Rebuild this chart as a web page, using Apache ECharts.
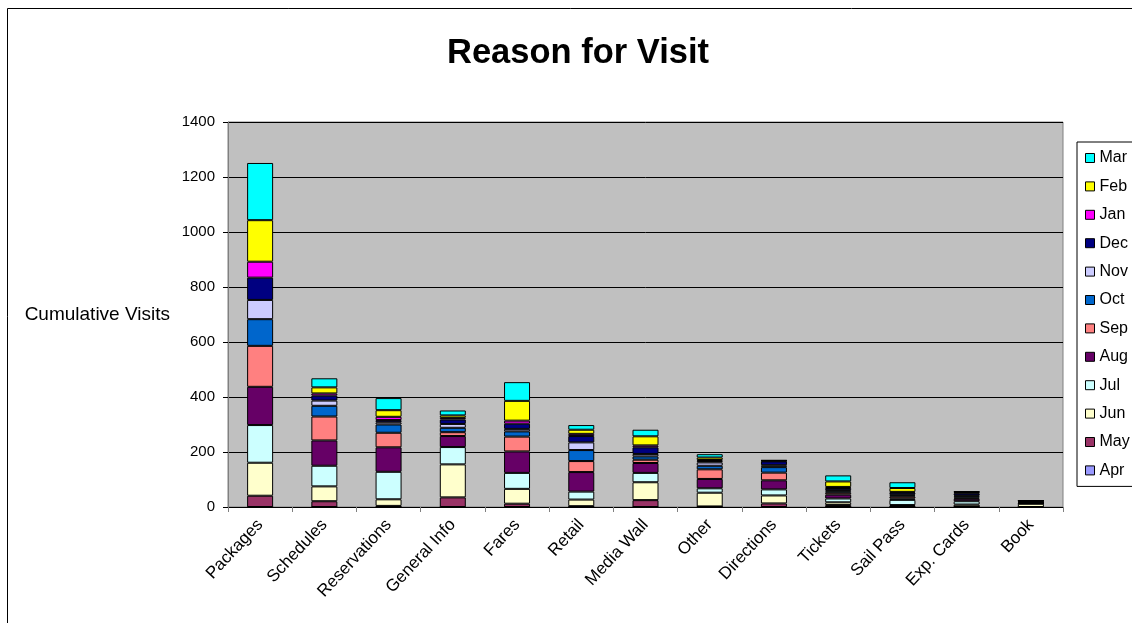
<!DOCTYPE html>
<html>
<head>
<meta charset="utf-8">
<script src="https://cdn.jsdelivr.net/npm/echarts@6/dist/echarts.min.js"></script>
<style>
html,body{margin:0;padding:0;background:#fff;}
#chart{width:1132px;height:623px;}
</style>
</head>
<body>
<div id="chart"></div>
<script>
const categories = ['Packages','Schedules','Reservations','General Info','Fares','Retail','Media Wall','Other','Directions','Tickets','Sail Pass','Exp. Cards','Book'];
const months = ['Apr','May','Jun','Jul','Aug','Sep','Oct','Nov','Dec','Jan','Feb','Mar'];
const apr = [0,0,0,0,0,0,0,0,0,0,0,0,0];
const may = [41,21,4,35,12,3,25,2,13,7,3,2,0];
const jun = [120,54,24,120,54,24,65,50,29,10,4,7,12];
const jul = [137,75,100,63,58,29,34,16,22,14,19,12,0];
const aug = [139,92,89,40,78,71,36,34,33,14,5,9,2];
const sep = [149,87,53,14,54,40,12,35,28,7,7,4,1];
const oct = [97,39,30,16,19,40,12,13,20,5,4,5,1];
const nov = [70,19,8,14,9,28,9,12,7,4,3,3,1];
const dec = [81,18,8,16,19,23,24,5,14,8,7,8,4];
const jan = [58,8,12,6,11,8,7,4,2,4,3,3,1];
const feb = [151,22,24,9,72,15,33,9,1,20,14,2,1];
const mar = [208,33,44,18,68,17,24,12,1,22,21,2,0];
const yTicks = [0,200,400,600,800,1000,1200,1400];

const monthData = [apr,may,jun,jul,aug,sep,oct,nov,dec,jan,feb,mar];
const colors = ['#9999FF','#993366','#FFFFCC','#CCFFFF','#660066','#FF8080','#0066CC','#CCCCFF','#000080','#FF00FF','#FFFF00','#00FFFF'];
const FONT = '"Liberation Sans", Arial, sans-serif';

const chart = echarts.init(document.getElementById('chart'), null, {renderer:'canvas'});
const series = months.map((m,i)=>({
  name: m,
  type: 'bar',
  stack: 'total',
  barWidth: 26,
  data: monthData[i],
  itemStyle: {color: colors[i], borderColor: '#000', borderWidth: 1},
  emphasis: {disabled: true}
}));

chart.setOption({
  animation: false,
  backgroundColor: '#fff',
  title: {
    text: 'Reason for Visit',
    left: 447, top: 36, padding: 0,
    textStyle: {fontFamily: FONT, fontSize: 34.5, fontWeight: 'bold', color: '#000'}
  },
  graphic: [{
    type: 'rect', silent: true,
    shape: {x: 7.5, y: 8.5, width: 1300, height: 800},
    style: {fill: 'none', stroke: '#000', lineWidth: 1}
  }],
  legend: {
    orient: 'vertical',
    left: 1077, top: 142,
    padding: [7, 30, 7, 8],
    borderColor: '#000', borderWidth: 1,
    backgroundColor: '#fff',
    itemWidth: 9, itemHeight: 9, itemGap: 10.4,
    icon: 'rect',
    itemStyle: {borderColor: '#000', borderWidth: 1},
    textStyle: {fontFamily: FONT, fontSize: 16, color: '#000', lineHeight: 18},
    data: months.slice().reverse()
  },
  grid: {
    left: 228, right: 69, top: 122, bottom: 116,
    show: true, backgroundColor: '#C0C0C0', borderColor: '#808080', borderWidth: 1
  },
  xAxis: {
    type: 'category',
    data: categories,
    axisLine: {lineStyle: {color: '#000', width: 1}},
    axisTick: {show: true, alignWithLabel: false, length: 5, lineStyle: {color: '#808080'}},
    axisLabel: {rotate: 47, fontFamily: FONT, fontSize: 17, color: '#000', margin: 15, interval: 0}
  },
  yAxis: {
    type: 'value',
    min: yTicks[0], max: yTicks[yTicks.length-1], interval: 200,
    name: 'Cumulative Visits',
    nameLocation: 'middle', nameRotate: 0, nameGap: 58,
    nameTextStyle: {fontFamily: FONT, fontSize: 19, color: '#000'},
    axisLine: {show: true, lineStyle: {color: '#808080', width: 1}},
    axisTick: {show: true, length: 5, lineStyle: {color: '#000'}},
    axisLabel: {fontFamily: FONT, fontSize: 15, color: '#000', margin: 13, formatter: v => String(v)},
    splitLine: {show: true, lineStyle: {color: '#000', width: 1}}
  },
  series: series
});
</script>
</body>
</html>
